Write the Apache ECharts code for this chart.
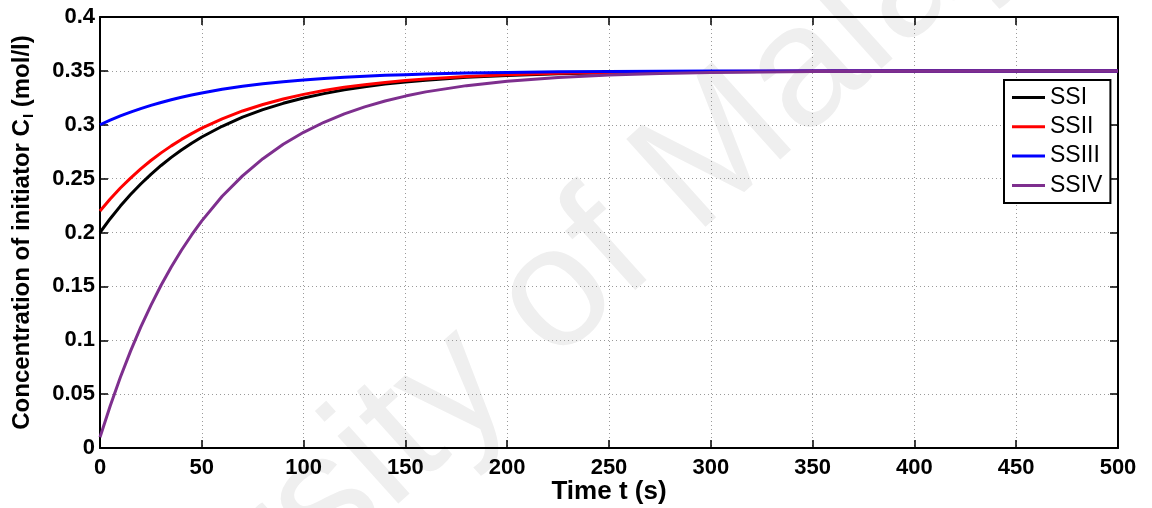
<!DOCTYPE html>
<html>
<head>
<meta charset="utf-8">
<script src="https://cdn.jsdelivr.net/npm/echarts@6/dist/echarts.min.js"></script>
<style>html,body{margin:0;padding:0;background:#fff}#c{width:1152px;height:508px}</style>
</head>
<body>
<div id="c"></div>
<script>
var times = [0,5,10,15,20,25,30,35,40,45,50,60,70,80,90,100,110,120,130,140,150,160,180,200,225,250,275,300,350,400,450,500];
var ssI   = [0.2000,0.2128,0.2245,0.2352,0.2450,0.2540,0.2622,0.2697,0.2766,0.2829,0.2886,0.2986,0.3070,0.3140,0.3199,0.3248,0.3289,0.3324,0.3353,0.3377,0.3397,0.3414,0.3440,0.3458,0.3473,0.3483,0.3489,0.3493,0.3497,0.3499,0.3500,0.3500];
var ssII  = [0.2200,0.2311,0.2413,0.2505,0.2590,0.2668,0.2739,0.2804,0.2864,0.2918,0.2968,0.3055,0.3128,0.3188,0.3239,0.3282,0.3317,0.3348,0.3372,0.3393,0.3410,0.3425,0.3448,0.3463,0.3477,0.3485,0.3490,0.3494,0.3498,0.3499,0.3500,0.3500];
var ssIII = [0.3000,0.3043,0.3082,0.3117,0.3150,0.3180,0.3207,0.3232,0.3255,0.3276,0.3295,0.3329,0.3357,0.3380,0.3400,0.3416,0.3430,0.3441,0.3451,0.3459,0.3465,0.3471,0.3480,0.3486,0.3491,0.3494,0.3496,0.3498,0.3499,0.3500,0.3500,0.3500];
var ssIV  = [0.0100,0.0390,0.0656,0.0899,0.1121,0.1324,0.1510,0.1680,0.1835,0.1977,0.2108,0.2336,0.2526,0.2685,0.2819,0.2930,0.3023,0.3101,0.3166,0.3221,0.3266,0.3305,0.3363,0.3404,0.3439,0.3461,0.3475,0.3484,0.3494,0.3497,0.3499,0.3500];
var seriesNames = ['SSI','SSII','SSIII','SSIV'];
var seriesColors = ['#000000','#ff0000','#0000ff','#7e2f8e'];
var seriesValues = [ssI, ssII, ssIII, ssIV];

var FONT = 'Arial, "Liberation Sans", Helvetica, sans-serif';
function pairs(vals){ return times.map(function(t,i){ return [t, vals[i]]; }); }

var chart = echarts.init(document.getElementById('c'), null, {renderer:'canvas'});
var axisCommon = {
  axisLine:{show:true, onZero:false, lineStyle:{color:'#000', width:2}},
  axisTick:{show:true, inside:true, length:8, lineStyle:{color:'#000', width:1.5}}
};
chart.setOption({
  animation:false,
  backgroundColor:'#fff',
  graphic:[{
    type:'text', silent:true, z:-10,
    x:500, y:348, rotation: 42*Math.PI/180,
    style:{text:'University of Malaya', font:'172px ' + FONT, fill:'#efefef', align:'center', verticalAlign:'middle'}
  }],
  grid:{left:100, right:34, top:17, bottom:60, containLabel:false, outerBoundsMode:'none'},
  legend:{
    orient:'vertical', left:1004, top:80,
    data: seriesNames,
    icon:'rect', itemWidth:33, itemHeight:3, itemGap:5.3,
    padding:[5.5,8,5.5,8],
    borderColor:'#000', borderWidth:2, backgroundColor:'#fff',
    textStyle:{fontFamily:FONT, fontSize:23, color:'#000', lineHeight:24}
  },
  xAxis:[Object.assign({
    type:'value', min:0, max:500, interval:50, position:'bottom',
    name:'Time t (s)', nameLocation:'middle', nameGap:31, nameMoveOverlap:false,
    nameTextStyle:{fontFamily:FONT, fontSize:26, fontWeight:'bold', color:'#000'},
    axisLabel:{fontFamily:FONT, fontSize:22, fontWeight:'bold', color:'#000', margin:9},
    splitLine:{show:true, lineStyle:{color:'#9a9a9a', width:1, type:[1,3]}}
  }, axisCommon),
  Object.assign({
    type:'value', min:0, max:500, interval:50, position:'top',
    axisLabel:{show:false}, splitLine:{show:false}
  }, axisCommon)],
  yAxis:[Object.assign({
    type:'value', min:0, max:0.4, interval:0.05, position:'left',
    name:'{a|Concentration of initiator C}{b|I}{a| (mol/l)}', nameLocation:'middle', nameGap:65, nameRotate:90, nameMoveOverlap:false,
    nameTextStyle:{
      rich:{
        a:{fontFamily:FONT, fontSize:24, fontWeight:'bold', color:'#000', lineHeight:26},
        b:{fontFamily:FONT, fontSize:15, fontWeight:'bold', color:'#000', lineHeight:26, padding:[13,0,0,1]}
      }
    },
    axisLabel:{fontFamily:FONT, fontSize:22, fontWeight:'bold', color:'#000', margin:5},
    splitLine:{show:true, lineStyle:{color:'#9a9a9a', width:1, type:[1,3]}}
  }, axisCommon),
  Object.assign({
    type:'value', min:0, max:0.4, interval:0.05, position:'right',
    axisLabel:{show:false}, splitLine:{show:false}
  }, axisCommon)],
  series: seriesNames.map(function(n,i){
    return {
      name:n, type:'line', data:pairs(seriesValues[i]),
      showSymbol:false, symbol:'none', smooth:false,
      lineStyle:{color:seriesColors[i], width:3}, itemStyle:{color:seriesColors[i]},
      z: 2+i
    };
  })
});
</script>
</body>
</html>
